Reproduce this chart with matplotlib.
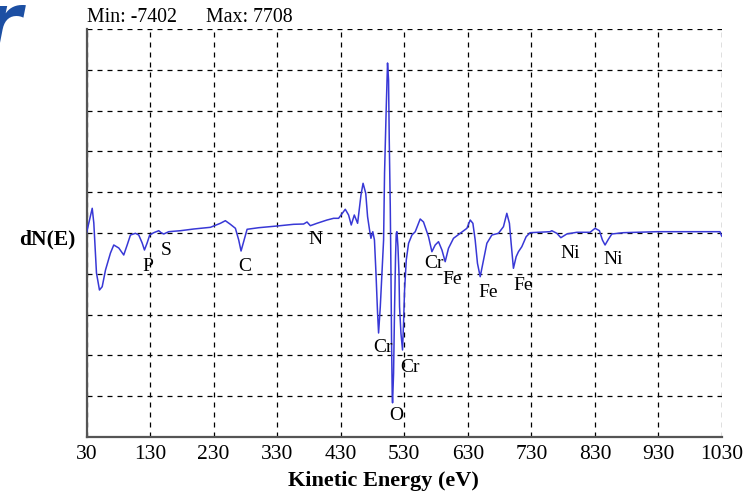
import matplotlib
matplotlib.use("Agg")
import matplotlib.pyplot as plt
import numpy as np

# AES derivative spectrum
energy_ev = [
    30.0, 39.0, 41.5, 45.7, 50.4, 54.7, 59.9, 67.7, 72.9, 80.8, 88.6, 94.0, 99.2,
    107.0, 112.2, 117.6, 121.2, 125.4, 129.5, 135.8, 143.7, 147.4, 151.5, 159.4,
    177.8, 198.7, 225.0, 240.7, 248.5, 256.4, 264.3, 269.5, 273.2, 277.3, 282.7,
    300.9, 329.8, 355.9, 371.7, 377.0, 382.2, 392.7, 408.5, 418.8, 426.7, 437.2,
    442.4, 446.6, 451.4, 456.6, 461.9, 465.2, 469.4, 472.3, 475.4, 477.6, 480.5,
    483.1, 485.5, 488.0, 489.6, 492.3, 494.9, 497.5, 499.0, 501.7, 503.7, 505.3,
    506.4, 508.0, 509.1, 510.0, 511.1, 511.6, 513.2, 514.8, 516.3, 517.4, 518.5,
    520.1, 521.7, 522.6, 524.8, 527.3, 528.9, 530.5, 533.2, 536.8, 542.1, 547.3,
    555.1, 560.3, 565.7, 568.2, 573.5, 578.7, 583.9, 589.3, 594.4, 599.6, 607.5,
    618.0, 628.6, 633.8, 638.0, 641.6, 645.2, 649.5, 653.7, 660.0, 667.9, 678.2,
    686.1, 691.4, 695.5, 698.2, 701.8, 706.1, 709.7, 715.0, 721.8, 728.1, 759.5,
    762.2, 770.1, 776.4, 785.8, 801.5, 822.4, 830.3, 837.1, 841.8, 846.0, 851.2,
    856.6, 874.8, 927.3, 1026.8, 1029.5,
]
dn_e = [
    0, 1120, 453, -1814, -2584, -2435, -1678, -907, -544, -680, -997, -544, -91,
    -14, -91, -453, -771, -453, -91, 14, 104, 14, -45, 59,
    104, 181, 258, 440, 558, 394, 213, -317, -816, -394, 168,
    240, 317, 394, 408, 499, 331, 440, 589, 666, 666, 1075,
    816, 363, 816, 440, 1723, 2253, 1800, 739, 136, -240, 59,
    -317, -1814, -3627, -4534, -3341, -1814, -317, 2720, 5726, 7708, 6937,
    4217, 1192, -1814, -4851, -7400, -7700, -6361, -3341, -1075, -14, 59,
    -621, -1827, -3341, -4548, -5305, -4094, -2584, -1224, -467, -91, 59,
    635, 499, 45, -168, -848, -544, -394, -771, -1301, -694, -240,
    -14, 213, 589, 440, -317, -1374, -1981, -1374, -467, -91, -14,
    286, 893, 440, -467, -1600, -1075, -848, -621, -168, 14, 59,
    104, -14, -213, -45, 32, 32, 213, 104, -317, -544, -286,
    -45, 14, 59, 59, -136,
]

peak_names = ["P", "S", "C", "N", "Cr", "Cr", "O", "Cr", "Fe", "Fe", "Fe", "Ni", "Ni"]
peak_label_ev = [125.9, 155.8, 278.4, 390.1, 497.0, 539.4, 517.4, 577.0, 605.5, 662.1, 717.1, 791.0, 858.6]
peak_label_dn = [-1500, -771, -1500, -317, -5214, -6121, -8297, -1400, -2131, -2720, -2358, -907, -1224]

x_ticks = [30, 130, 230, 330, 430, 530, 630, 730, 830, 930, 1030]
y_limit = 9250
signal_min = -7402
signal_max = 7708

serif = "Liberation Serif"

fig = plt.figure(figsize=(7.48, 4.94), dpi=100)
ax = fig.add_axes([86.5 / 748, 1 - 437 / 494, 635.5 / 748, 408 / 494])

ax.plot(energy_ev, dn_e, color="#3838d6", linewidth=1.1, zorder=3)

ax.set_xlim(30, 1030)
ax.set_ylim(-y_limit, y_limit)
ax.set_xticks(x_ticks)
ax.set_xticklabels([str(t) for t in x_ticks], fontfamily=serif, fontsize=15.5)
ax.set_yticks(np.linspace(-y_limit, y_limit, 11))
ax.set_yticklabels([])
ax.tick_params(length=0, pad=6)
ax.grid(True, color="black", linestyle=(0, (4, 4)), linewidth=0.9, zorder=1)

ax.spines["top"].set_visible(False)
ax.spines["right"].set_visible(False)
ax.spines["left"].set_color("#555555")
ax.spines["left"].set_linewidth(1.6)
ax.spines["bottom"].set_color("#555555")
ax.spines["bottom"].set_linewidth(1.6)

ax.set_xlabel("Kinetic Energy (eV)", fontfamily=serif, fontsize=16, fontweight="bold")
ax.xaxis.label.set_va("center")
ax.xaxis.set_label_coords((383 - 86.5) / 635.5, (437 - 481) / 408)
ax.set_ylabel("dN(E)", fontfamily=serif, fontsize=15.5, fontweight="bold", rotation=0)
ax.yaxis.label.set_va("center")
ax.yaxis.label.set_ha("center")
ax.yaxis.set_label_coords((47 - 86.5) / 635.5, (437 - 239) / 408)

for name, e, v in zip(peak_names, peak_label_ev, peak_label_dn):
    ax.text(e, v, name, fontfamily=serif, fontsize=14, ha="center", va="center", zorder=4)

fig.text(87 / 748, 1 - 21.5 / 494, f"Min: {signal_min}", fontfamily=serif, fontsize=14.3, va="baseline")
fig.text(206 / 748, 1 - 21.5 / 494, f"Max: {signal_max}", fontfamily=serif, fontsize=14.3, va="baseline")

# cropped slide-title glyph in the corner
fig.text(21 / 748, 1 - 50 / 494, "r", color="#1c4fa3", fontsize=58, fontweight="bold",
         fontstyle="italic", ha="right", va="baseline")

fig.savefig("out.png", dpi=100)
